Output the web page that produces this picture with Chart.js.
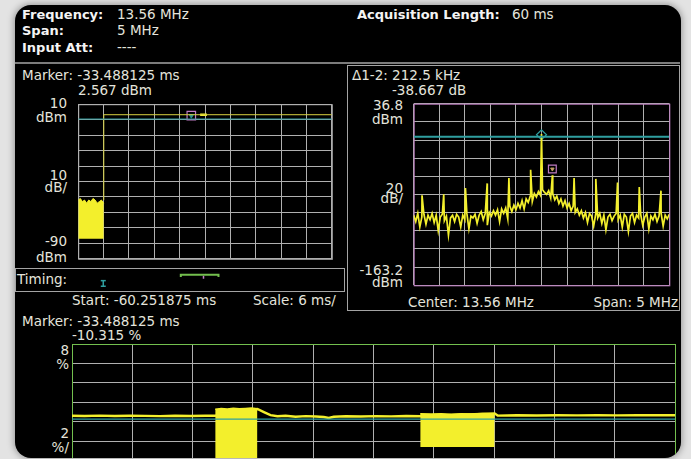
<!DOCTYPE html>
<html>
<head>
<meta charset="utf-8">
<script src="https://cdn.jsdelivr.net/npm/chart.js@4.4.1/dist/chart.umd.min.js"></script>
<style>
html, body { margin: 0; padding: 0; width: 691px; height: 459px; overflow: hidden; background: #e3e3e3; }
#screen { position: absolute; left: 15px; top: 5px; width: 666px; height: 453px; background: #000; border-radius: 16px; box-shadow: 0 0 7px 1px rgba(0,0,0,.35); }
#view { position: absolute; left: 0; top: 0; width: 691px; height: 459px; clip-path: inset(5px 10px 1px 15px round 16px);
        font-family: "DejaVu Sans", sans-serif; font-size: 13.5px; color: #e4e4dc; }
.t { position: absolute; white-space: nowrap; line-height: 13px; }
.b { font-weight: bold; color: #f4f4f4; font-size: 13px; }
.r { text-align: right; }
.box { position: absolute; box-sizing: border-box; border: 1px solid #a4a4a4; }
.sep { position: absolute; background: #7c7c7c; }
canvas { position: absolute; }
</style>
</head>
<body>
<div id="screen"></div>
<div id="view">
  <!-- cabeçalho -->
  <div class="t b" style="left:22px;top:8px">Frequency:</div>
  <div class="t" style="left:117px;top:8px">13.56 MHz</div>
  <div class="t b" style="left:22px;top:24px">Span:</div>
  <div class="t" style="left:117px;top:24px">5 MHz</div>
  <div class="t b" style="left:22px;top:41px">Input Att:</div>
  <div class="t" style="left:117px;top:41px">----</div>
  <div class="t b" style="left:357px;top:8px">Acquisition Length:</div>
  <div class="t" style="left:512px;top:8px">60 ms</div>
  <div class="sep" style="left:15px;top:62px;width:665px;height:2px"></div>

  <!-- painel potência x tempo -->
  <div class="t" style="left:22px;top:69px">Marker: -33.488125 ms</div>
  <div class="t" style="left:78px;top:84px">2.567 dBm</div>
  <div class="t r" style="right:624px;top:97px">10</div>
  <div class="t r" style="right:624px;top:111px">dBm</div>
  <div class="t r" style="right:624px;top:169px">10</div>
  <div class="t r" style="right:624px;top:181px">dB/</div>
  <div class="t r" style="right:624px;top:235px">-90</div>
  <div class="t r" style="right:624px;top:251px">dBm</div>
  <canvas id="powerChart" width="268" height="169" style="left:71px;top:97px"></canvas>

  <div class="box" style="left:15px;top:268px;width:330px;height:24px"></div>
  <div class="t" style="left:17px;top:273px">Timing:</div>
  <canvas id="timingChart" width="268" height="24" style="left:71px;top:268px"></canvas>
  <div class="t" style="left:72px;top:294px">Start: -60.251875 ms</div>
  <div class="t" style="left:253px;top:294px">Scale: 6 ms/</div>

  <!-- painel espectro -->
  <div class="box" style="left:347px;top:65px;width:333px;height:246px"></div>
  <div class="t" style="left:352px;top:69px">Δ1-2: 212.5 kHz</div>
  <div class="t" style="left:392px;top:84px">-38.667 dB</div>
  <div class="t r" style="right:288px;top:99px">36.8</div>
  <div class="t r" style="right:288px;top:113px">dBm</div>
  <div class="t r" style="right:288px;top:182px">20</div>
  <div class="t r" style="right:288px;top:192px">dB/</div>
  <div class="t r" style="right:288px;top:264px">-163.2</div>
  <div class="t r" style="right:288px;top:276px">dBm</div>
  <canvas id="spectrumChart" width="269" height="195" style="left:407px;top:97px"></canvas>
  <div class="t" style="left:408px;top:296px">Center: 13.56 MHz</div>
  <div class="t r" style="right:13px;top:296px">Span: 5 MHz</div>

  <!-- painel desvio (%) x tempo -->
  <div class="t" style="left:22px;top:315px">Marker: -33.488125 ms</div>
  <div class="t" style="left:72px;top:329px">-10.315 %</div>
  <div class="t r" style="right:622px;top:344px">8</div>
  <div class="t r" style="right:622px;top:358px">%</div>
  <div class="t r" style="right:622px;top:427px">2</div>
  <div class="t r" style="right:622px;top:441px">%/</div>
  <canvas id="deviationChart" width="605" height="196" style="left:71px;top:343px"></canvas>
</div>

<script>
// --- DADOS: potência x tempo ---
const timeStartMs = -60.25, timeEndMs = -0.25, timeMsPerDiv = 6;
const powerMinDbm = -90, powerMaxDbm = 10, powerDbPerDiv = 10;
const burstTimesMs = [-60.25, -59.75, -59.25, -58.75, -58.25, -57.75, -57.25, -56.75, -56.25, -55.75, -55.25, -54.75, -54.2];
const burstTopDbm = [-52, -51, -53, -52, -54, -52, -53, -51, -52, -54, -53, -52, -54];
const burstFloorDbm = -77;
const carrierTimesMs = [-54.2, -54.2, -0.25];
const carrierDbm = [-52, 3.2, 3.2];
const powerRefDbm = 0.4;
const powerMarkerMs = -33.49, powerMarkerDbm = 2.567;
const powerReadoutMs = [-31.4, -29.8];

// --- DADOS: barra de timing ---
const timingGateMs = [-35.9, -27.1];
const timingTriggerMs = -54.0;
const timingMarkerMs = -30.6;

// --- DADOS: espectro ---
const specStartMHz = 11.06, specEndMHz = 16.06, specStepMHz = 0.04, specMHzPerDiv = 0.5;
const specMinDbm = -163.2, specMaxDbm = 36.8, specDbPerDiv = 20;
const specNoiseDbm = [
  -86, -93, -84, -99, -88, -85, -96, -86, -91, -84,
  -94, -86, -103, -88, -85, -92, -87, -108, -89, -86,
  -93, -85, -88, -99, -86, -91, -84, -101, -87, -89,
  -85, -95, -86, -82, -91, -84, -97, -83, -87, -81,
  -86, -80, -93, -79, -84, -78, -90, -76, -82, -75,
  -80, -73, -78, -70, -79, -68, -72, -65, -71, -62,
  -66, -60, -64, -58, -61, -63, -59, -67, -62, -69,
  -65, -73, -68, -76, -70, -78, -73, -81, -76, -83,
  -79, -86, -81, -89, -83, -94, -84, -87, -98, -85,
  -89, -84, -95, -86, -102, -88, -85, -92, -87, -84,
  -91, -86, -99, -85, -88, -104, -87, -84, -94, -86,
  -89, -85, -97, -88, -84, -101, -87, -91, -85, -93,
  -87, -84, -98, -86, -90, -85
];
const spurFreqMHz = [11.2225, 11.6475, 12.0725, 12.4975, 12.9225, 13.3475, 13.56, 13.7725, 14.1975, 14.6225, 15.0475, 15.4725, 15.8975];
const spurDbm = [-64, -63, -56, -51, -45, -36, 3.5, -42, -45, -46, -50, -55, -59];
const specRefDbm = 0.5;
const specMarker1 = { f: 13.56, dbm: 2.6 };
const specMarker2 = { f: 13.7725, dbm: -35.2 };

// --- DADOS: desvio (%) x tempo ---
const devMinPct = -12, devMaxPct = 8, devPctPerDiv = 2;
const devTimesMs = [-60.25, -59, -57.5, -56, -54.5, -53, -51.5, -50, -48.5, -47, -46.0,
  -41.8, -41.1, -40.5, -39.8, -39, -38, -37, -36, -35.2, -34.7, -34.2, -33, -31.5, -30, -28.5, -27, -25.6,
  -18.2, -17.9, -16, -14, -12, -10, -8, -6, -4, -2, -0.25];
const devPct = [0.6, 0.58, 0.62, 0.57, 0.6, 0.59, 0.56, 0.6, 0.58, 0.61, 0.6,
  1.3, 0.95, 0.66, 0.55, 0.6, 0.5, 0.56, 0.52, 0.47, 0.37, 0.5, 0.55, 0.52, 0.56, 0.54, 0.57, 0.55,
  0.85, 0.62, 0.65, 0.63, 0.66, 0.64, 0.67, 0.64, 0.66, 0.65, 0.66];
const burstATimesMs = [-46.0, -45.4, -44.8, -44.2, -43.6, -43.0, -42.4, -41.8];
const burstATopPct = [1.28, 1.35, 1.3, 1.38, 1.32, 1.36, 1.4, 1.33];
const burstABottomPct = -9;
const burstBTimesMs = [-25.6, -24.5, -23.5, -22.5, -21.5, -20.5, -19.4, -18.2];
const burstBTopPct = [0.8, 0.78, 0.82, 0.77, 0.8, 0.79, 0.83, 0.8];
const burstBBottomPct = -2.62;
const devRefPct = 0.25;

document.addEventListener('DOMContentLoaded', () => {

  // --- CORES ---
  const YELLOW = '#f3ef2c', TEAL = '#2f9fa0', MAGENTA = '#c07cc4', GREEN = '#73bf4e', GRID = '#b0b0b0';

  const zip = (xs, ys) => xs.map((x, i) => ({ x, y: ys[i] }));
  const hline = (x0, x1, y) => [{ x: x0, y }, { x: x1, y }];

  // moldura colorida da área do gráfico
  const framePlugin = {
    id: 'frame',
    beforeDatasetsDraw(chart, args, opts) {
      if (!opts.color) return;
      const { ctx, chartArea: a } = chart;
      ctx.save();
      ctx.strokeStyle = opts.color;
      ctx.lineWidth = 1;
      ctx.strokeRect(a.left + 0.5, a.top + 0.5, a.right - a.left, a.bottom - a.top);
      ctx.restore();
    }
  };

  function axis(min, max, step, showGrid) {
    return {
      type: 'linear', min, max,
      ticks: { display: false, stepSize: step },
      grid: { display: showGrid, color: GRID, drawTicks: false },
      border: { display: false }
    };
  }

  function scopeChart(id, cfg) {
    return new Chart(document.getElementById(id), {
      type: 'line',
      data: { datasets: cfg.datasets },
      options: {
        responsive: false,
        animation: false,
        devicePixelRatio: 1,
        layout: { padding: 1 },
        elements: { point: { radius: 0 }, line: { tension: 0 } },
        plugins: { legend: { display: false }, tooltip: { enabled: false }, frame: { color: cfg.frame } },
        scales: { x: cfg.x, y: cfg.y }
      },
      plugins: [framePlugin]
    });
  }

  const line = (data, color, width, extra) => Object.assign({ data, borderColor: color, borderWidth: width, fill: false }, extra || {});

  // --- POTÊNCIA x TEMPO ---
  scopeChart('powerChart', {
    frame: GRID,
    x: axis(timeStartMs, timeEndMs, timeMsPerDiv, true),
    y: axis(powerMinDbm, powerMaxDbm, powerDbPerDiv, true),
    datasets: [
      line(hline(timeStartMs, timeEndMs, powerRefDbm), TEAL, 1),
      line(zip(burstTimesMs, burstTopDbm), YELLOW, 1, { fill: { value: burstFloorDbm }, backgroundColor: YELLOW }),
      line(zip(carrierTimesMs, carrierDbm), '#d6d040', 1),
      line(hline(powerReadoutMs[0], powerReadoutMs[1], carrierDbm[2]), YELLOW, 2.5),
      line([{ x: powerMarkerMs, y: powerMarkerDbm }], MAGENTA, 1, { showLine: false, pointRadius: 6, pointStyle: 'rect', pointBorderColor: MAGENTA, pointBorderWidth: 1.2 }),
      line([{ x: powerMarkerMs, y: powerMarkerDbm }], TEAL, 1, { showLine: false, pointRadius: 2.5, pointStyle: 'triangle', rotation: 180, pointBackgroundColor: TEAL, pointBorderColor: TEAL })
    ]
  });

  // --- BARRA DE TIMING ---
  scopeChart('timingChart', {
    frame: null,
    x: axis(timeStartMs, timeEndMs, timeMsPerDiv, false),
    y: axis(0, 1, 1, false),
    datasets: [
      line([{ x: timingGateMs[0], y: 0.74 }, { x: timingGateMs[0], y: 0.9 }, { x: timingGateMs[1], y: 0.9 }, { x: timingGateMs[1], y: 0.74 }], GREEN, 2, { clip: false }),
      line([{ x: timingMarkerMs, y: 0.82 }, { x: timingMarkerMs, y: 0.6 }], MAGENTA, 1.5, { clip: false }),
      line([{ x: timingTriggerMs, y: 0.45 }, { x: timingTriggerMs, y: 0.02 }], TEAL, 1.5,
        { clip: false, pointRadius: 2.5, pointStyle: 'line', pointBorderColor: TEAL, pointBorderWidth: 1.5 })
    ]
  });

  // --- ESPECTRO ---
  const specPoints = specNoiseDbm.map((v, i) => ({ x: specStartMHz + i * specStepMHz, y: v }))
    .concat(zip(spurFreqMHz, spurDbm))
    .sort((a, b) => a.x - b.x);

  scopeChart('spectrumChart', {
    frame: MAGENTA,
    x: axis(specStartMHz, specEndMHz, specMHzPerDiv, true),
    y: axis(specMinDbm, specMaxDbm, specDbPerDiv, true),
    datasets: [
      line(hline(specStartMHz, specEndMHz, specRefDbm), TEAL, 2),
      line(specPoints, YELLOW, 1.7),
      line([{ x: specMarker1.f, y: specMarker1.dbm }], TEAL, 1, { showLine: false, pointRadius: 5, pointStyle: 'rectRot', pointBorderColor: TEAL, pointBorderWidth: 1.2 }),
      line([{ x: specMarker2.f, y: specMarker2.dbm }], MAGENTA, 1, { showLine: false, pointRadius: 5.5, pointStyle: 'rect', pointBorderColor: MAGENTA, pointBorderWidth: 1.2 }),
      line([{ x: specMarker2.f, y: specMarker2.dbm }], TEAL, 1, { showLine: false, pointRadius: 2, pointStyle: 'triangle', rotation: 180, pointBackgroundColor: '#d8b070', pointBorderColor: '#d8b070' })
    ]
  });

  // --- DESVIO (%) x TEMPO ---
  scopeChart('deviationChart', {
    frame: GREEN,
    x: axis(timeStartMs, timeEndMs, timeMsPerDiv, true),
    y: axis(devMinPct, devMaxPct, devPctPerDiv, true),
    datasets: [
      line(hline(timeStartMs, timeEndMs, devRefPct), TEAL, 1.2),
      line(zip(burstATimesMs, burstATopPct), YELLOW, 1.5, { fill: { value: burstABottomPct }, backgroundColor: YELLOW }),
      line(zip(burstBTimesMs, burstBTopPct), YELLOW, 1.5, { fill: { value: burstBBottomPct }, backgroundColor: YELLOW }),
      line(zip(devTimesMs, devPct), YELLOW, 2.4)
    ]
  });
});
</script>
</body>
</html>
